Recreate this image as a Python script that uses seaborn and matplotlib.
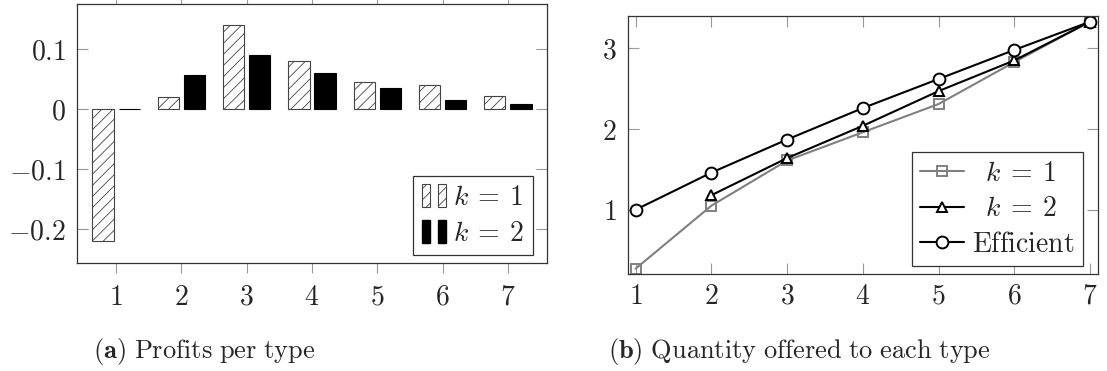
import numpy as np
import pandas as pd
import matplotlib.pyplot as plt
import seaborn as sns
from matplotlib.patches import Rectangle
from matplotlib.legend_handler import HandlerTuple

# values
types = [1, 2, 3, 4, 5, 6, 7]
profit_k1 = [-0.22, 0.02, 0.14, 0.08, 0.045, 0.04, 0.021]
profit_k2 = [0.0, 0.056, 0.09, 0.06, 0.035, 0.015, 0.008]

qty_k1 = [0.27, 1.05, 1.61, 1.96, 2.31, 2.83, 3.33]
qty_k2 = [np.nan, 1.18, 1.64, 2.04, 2.47, 2.85, 3.33]
qty_eff = [1.0, 1.46, 1.87, 2.26, 2.62, 2.98, 3.33]

type_labels = [r'$%d$' % t for t in types]
profit_yticks = [-0.2, -0.1, 0, 0.1]
profit_ylabels = [r'$-0.2$', r'$-0.1$', r'$0$', r'$0.1$']
qty_yticks = [1, 2, 3]
qty_ylabels = [r'$1$', r'$2$', r'$3$']

sns.set_style('white')
plt.rcParams['mathtext.fontset'] = 'cm'
plt.rcParams['font.family'] = ['DejaVu Serif']
plt.rcParams['hatch.linewidth'] = 0.6

FS = 20
SPINE = '#333333'
TICK = '#999999'
GRAY = '#808080'

fig = plt.figure(figsize=(11.07, 3.71), dpi=100)
ax1 = fig.add_axes([77 / 1107, 1 - 263 / 371, 470 / 1107, 259 / 371])
ax2 = fig.add_axes([627.7 / 1107, 1 - 274.3 / 371, 470 / 1107, 258.6 / 371])

# ---- (a) profits per type
df = pd.DataFrame({
    'type': types * 2,
    'profit': profit_k1 + profit_k2,
    'k': ['k1'] * len(types) + ['k2'] * len(types),
})
sns.barplot(data=df, x='type', y='profit', hue='k', palette=['white', 'black'],
            width=0.8, gap=0.18, edgecolor='black', linewidth=0.8,
            legend=False, ax=ax1)
for p in ax1.patches:
    if p.get_facecolor()[0] > 0.5:
        p.set_hatch('///')
        p.set_edgecolor('#444444')

ax1.set_xlim(-0.6, 6.6)
ax1.set_ylim(-0.257, 0.175)
ax1.set_xticks(range(len(types)), type_labels)
ax1.set_yticks(profit_yticks, profit_ylabels)
ax1.set_xlabel('')
ax1.set_ylabel('')
ax1.tick_params(axis='x', direction='out', top=True, bottom=True, length=7,
                width=0.8, color=TICK, pad=8, labelsize=FS)
ax1.tick_params(axis='y', direction='in', left=True, right=True, length=8,
                width=0.8, color=TICK, pad=8, labelsize=FS)

h1 = (Rectangle((0, 0), 1, 1, facecolor='white', edgecolor='#444444', hatch='///', linewidth=0.8),
      Rectangle((0, 0), 1, 1, facecolor='white', edgecolor='#444444', hatch='///', linewidth=0.8))
h2 = (Rectangle((0, 0), 1, 1, facecolor='black', edgecolor='black'),
      Rectangle((0, 0), 1, 1, facecolor='black', edgecolor='black'))
leg1 = ax1.legend([h1, h2], [r'$k\:=\:1$', r'$k\:=\:2$'],
                  handler_map={tuple: HandlerTuple(ndivide=None, pad=0.28)},
                  loc='lower right', bbox_to_anchor=(0.97, 0.03), borderaxespad=0,
                  fontsize=FS, handlelength=0.87, handleheight=0.9, handletextpad=0.27,
                  labelspacing=0.3, borderpad=0.3, fancybox=False, framealpha=1)
leg1.get_frame().set_edgecolor(SPINE)
leg1.get_frame().set_linewidth(0.9)

# ---- (b) quantity offered to each type
sns.lineplot(x=types, y=qty_k1, color=GRAY, marker='s', markersize=7,
             markerfacecolor='none', markeredgecolor=GRAY, markeredgewidth=1.4,
             linewidth=1.5, label=r'$\;\;k\:=\:1$', ax=ax2)
sns.lineplot(x=types, y=qty_k2, color='black', marker='^', markersize=7,
             markerfacecolor='white', markeredgecolor='black', markeredgewidth=1.4,
             linewidth=1.5, label=r'$\;\;k\:=\:2$', ax=ax2)
sns.lineplot(x=types, y=qty_eff, color='black', marker='o', markersize=8.5,
             markerfacecolor='white', markeredgecolor='black', markeredgewidth=1.4,
             linewidth=1.5, label=r'$\mathrm{Efficient}$', ax=ax2)

ax2.set_xlim(0.895, 7.1)
ax2.set_ylim(0.2, 3.404)
ax2.set_xticks(types, type_labels)
ax2.set_yticks(qty_yticks, qty_ylabels)
ax2.tick_params(axis='both', direction='in', top=True, bottom=True, left=True,
                right=True, length=8, width=0.8, color=TICK, labelsize=FS)
ax2.tick_params(axis='x', pad=6)
ax2.tick_params(axis='y', pad=8)

leg2 = ax2.legend(loc='lower right', bbox_to_anchor=(0.969, 0.032), borderaxespad=0,
                  fontsize=FS, handlelength=1.58, handletextpad=0.3,
                  labelspacing=0.3, borderpad=0.3, fancybox=False, framealpha=1)
leg2.get_frame().set_edgecolor(SPINE)
leg2.get_frame().set_linewidth(0.9)

for ax in (ax1, ax2):
    for s in ax.spines.values():
        s.set_visible(True)
        s.set_color(SPINE)
        s.set_linewidth(0.9)

fig.text(93 / 1107, 1 - 358 / 371, r'$\mathbf{(a)}\ \mathrm{Profits\ per\ type}$',
         fontsize=19, ha='left', va='baseline')
fig.text(608 / 1107, 1 - 358 / 371, r'$\mathbf{(b)}\ \mathrm{Quantity\ offered\ to\ each\ type}$',
         fontsize=19, ha='left', va='baseline')

fig.savefig('out.png', dpi=100)
